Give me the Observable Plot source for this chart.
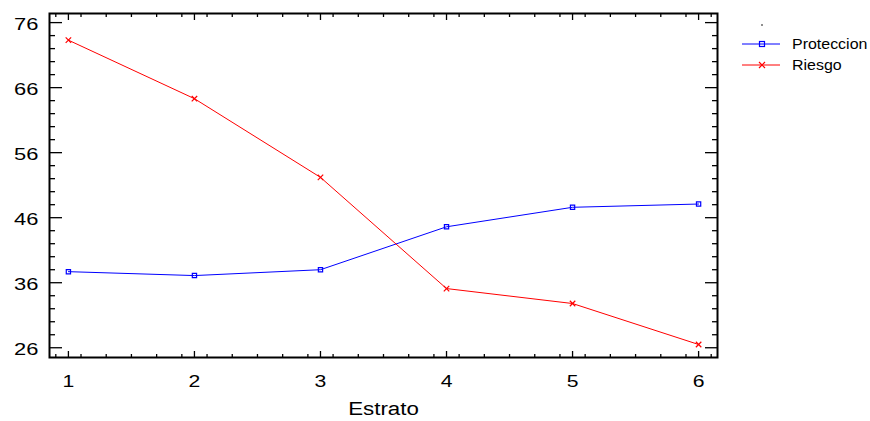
<!DOCTYPE html>
<html><head><meta charset="utf-8">
<script src="https://cdn.jsdelivr.net/npm/d3@7"></script>
<script src="https://cdn.jsdelivr.net/npm/@observablehq/plot@0.6"></script>
<style>
body{margin:0;background:#fff;font-family:"Liberation Sans",Arial,sans-serif}
#chart svg text{font-family:"Liberation Sans",Arial,sans-serif !important}
</style>
</head><body><div id="chart"></div>
<script>
const estrato = [1, 2, 3, 4, 5, 6];
const proteccion = [37.7, 37.1, 38.0, 44.6, 47.6, 48.1];
const riesgo = [73.3, 64.3, 52.2, 35.1, 32.8, 26.5];
const seriesNames = ["Proteccion", "Riesgo"];
const seriesColors = ["#0000ff", "#ff0000"];
const yMajor = [26, 36, 46, 56, 66, 76];
const yMinor = d3.range(26, 77, 2).filter(v => !yMajor.includes(v));
const xMajor = [1, 2, 3, 4, 5, 6];
const xMinor = d3.range(0.9, 6.15, 0.2).map(v => +v.toFixed(1)).filter(v => v > 0.85 && v < 6.15 && !xMajor.includes(v));

const data = [];
estrato.forEach((e, i) => data.push({x: e, y: proteccion[i], s: seriesNames[0]}));
estrato.forEach((e, i) => data.push({x: e, y: riesgo[i], s: seriesNames[1]}));

const plot = Plot.plot({
  width: 870, height: 421,
  marginLeft: 49, marginRight: 153, marginTop: 13, marginBottom: 64,
  style: {fontFamily: "Liberation Sans, Arial, sans-serif", background: "#fff"},
  x: {domain: [0.85, 6.15]},
  y: {domain: [24.5, 77.4]},
  color: {domain: seriesNames, range: seriesColors},
  marks: [
    Plot.axisY(yMajor, {anchor: "left", tickSize: -13, text: null, label: null, stroke: "#000", strokeWidth: 1.3}),
    Plot.axisY(yMinor, {anchor: "left", tickSize: -6, text: null, label: null, stroke: "#000", strokeWidth: 1.3}),
    Plot.axisY(yMajor, {anchor: "right", tickSize: -13, text: null, label: null, stroke: "#000", strokeWidth: 1.3}),
    Plot.axisY(yMinor, {anchor: "right", tickSize: -6, text: null, label: null, stroke: "#000", strokeWidth: 1.3}),
    Plot.axisY(yMajor, {anchor: "left", tickSize: 0, tickPadding: 11, label: null, fill: "#000", tickFormat: "d", dy: 2}),
    Plot.axisX(xMajor, {anchor: "bottom", tickSize: -6, text: null, label: null, stroke: "#000", strokeWidth: 1.3}),
    Plot.axisX(xMinor, {anchor: "bottom", tickSize: -3, text: null, label: null, stroke: "#000", strokeWidth: 1.3}),
    Plot.axisX(xMajor, {anchor: "top", tickSize: -6, text: null, label: null, stroke: "#000", strokeWidth: 1.3}),
    Plot.axisX(xMinor, {anchor: "top", tickSize: -3, text: null, label: null, stroke: "#000", strokeWidth: 1.3}),
    Plot.axisX(xMajor, {anchor: "bottom", tickSize: 0, tickPadding: 17, tickFormat: "d", label: "Estrato", labelAnchor: "center", labelArrow: "none", labelOffset: 57, fill: "#000"}),
    Plot.frame({stroke: "#000", strokeWidth: 2}),
    Plot.line(data, {x: "x", y: "y", stroke: "s", z: "s", strokeWidth: 1}),
    Plot.dot(data.filter(d => d.s === seriesNames[0]), {x: "x", y: "y", symbol: "square", r: 2.4, stroke: "s", fill: "none", strokeWidth: 1.2}),
    Plot.dot(data.filter(d => d.s === seriesNames[1]), {x: "x", y: "y", symbol: "times", r: 2.6, stroke: "s", strokeWidth: 1.2})
  ]
});
document.getElementById("chart").appendChild(plot);

const svg = d3.select(plot);
// stretched glyphs, as in the reference
function stretch(sel, size, factor) {
  sel.each(function () {
    this.style.fontSize = size + "px";
    const len = this.getComputedTextLength();
    this.setAttribute("textLength", (len * factor).toFixed(1));
    this.setAttribute("lengthAdjust", "spacingAndGlyphs");
  });
}
stretch(svg.selectAll('g[aria-label="y-axis tick label"] text'), 17, 1.29);
stretch(svg.selectAll('g[aria-label="x-axis tick label"] text'), 17, 1.25);
stretch(svg.selectAll('g[aria-label="x-axis label"] text'), 18, 1.24);

// legend
const lg = svg.append("g").attr("text-anchor", "start");
lg.append("circle").attr("cx", 762).attr("cy", 25).attr("r", 0.8).attr("fill", "#000");
seriesNames.forEach((n, i) => {
  const y = 44 + i * 21;
  lg.append("line").attr("x1", 742).attr("x2", 780).attr("y1", y).attr("y2", y).attr("stroke", seriesColors[i]).attr("stroke-width", 1);
  if (i === 0) lg.append("rect").attr("x", 759.5).attr("y", y - 2.5).attr("width", 5).attr("height", 5).attr("fill", "none").attr("stroke", seriesColors[i]).attr("stroke-width", 1.2);
  else lg.append("path").attr("d", `M${759},${y-3}L${765},${y+3}M${759},${y+3}L${765},${y-3}`).attr("stroke", seriesColors[i]).attr("stroke-width", 1.2);
  lg.append("text").attr("x", 792).attr("y", y).attr("dy", "0.35em").attr("fill", "#000").text(n);
});
stretch(lg.selectAll("text"), 14, 1.14);
</script></body></html>
